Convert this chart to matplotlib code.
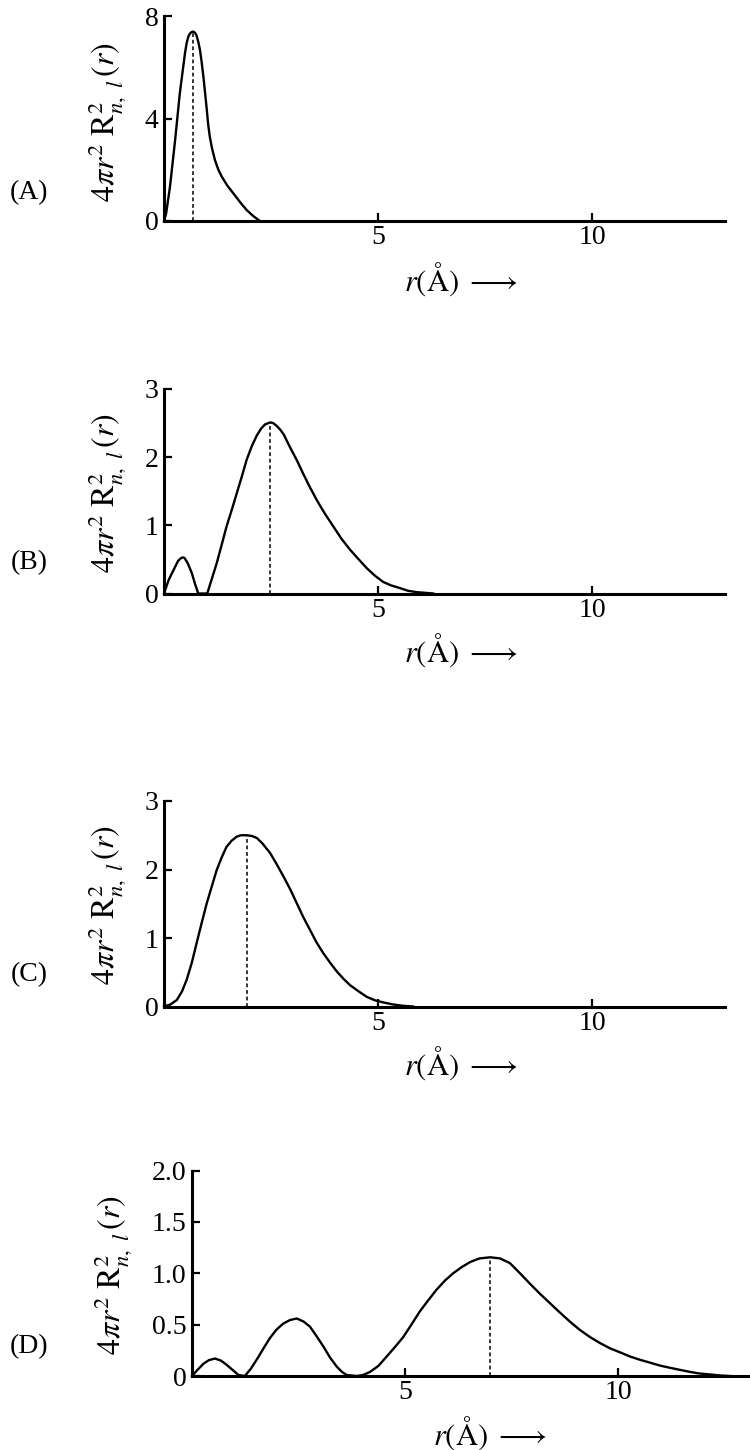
import matplotlib
matplotlib.use("Agg")
import matplotlib.pyplot as plt

plt.rcParams['font.family'] = ['Liberation Serif', 'DejaVu Serif']
plt.rcParams['mathtext.fontset'] = 'stix'

# ---- data ----
rA = [0.0, 0.05, 0.14, 0.26, 0.37, 0.49, 0.53, 0.57, 0.60, 0.64, 0.67, 0.70, 0.73,
      0.76, 0.80, 0.84, 0.88, 0.92, 0.96, 1.0, 1.03, 1.07, 1.12, 1.19, 1.27, 1.35,
      1.48, 1.62, 1.78, 1.93, 2.08, 2.24]
pA = [0.0, 0.3, 1.34, 3.16, 4.99, 6.55, 6.95, 7.2, 7.3, 7.37, 7.39, 7.38, 7.33,
      7.24, 7.0, 6.68, 6.2, 5.64, 5.0, 4.34, 3.8, 3.29, 2.85, 2.38, 2.0, 1.73,
      1.38, 1.08, 0.73, 0.43, 0.2, 0.0]

rB = [0.0, 0.11, 0.22, 0.33, 0.40, 0.44, 0.48, 0.55, 0.65, 0.72, 0.80, 1.01, 1.23,
      1.35, 1.46, 1.58, 1.70, 1.82, 1.93, 2.05, 2.17, 2.27, 2.36, 2.48, 2.55, 2.63,
      2.72, 2.80, 2.94, 3.10, 3.25, 3.40, 3.57, 3.75, 3.96, 4.15, 4.35, 4.55, 4.74,
      4.93, 5.12, 5.30, 5.51, 5.70, 5.90, 6.10, 6.29]
pB = [0.0, 0.2, 0.34, 0.48, 0.52, 0.53, 0.52, 0.45, 0.30, 0.15, 0.0, 0.0, 0.44,
      0.72, 0.98, 1.22, 1.47, 1.72, 1.96, 2.16, 2.32, 2.42, 2.48, 2.51, 2.50, 2.46,
      2.40, 2.33, 2.15, 1.96, 1.76, 1.57, 1.37, 1.18, 0.98, 0.80, 0.64, 0.50, 0.37,
      0.26, 0.17, 0.12, 0.08, 0.04, 0.02, 0.01, 0.0]

rC = [0.0, 0.15, 0.30, 0.42, 0.53, 0.65, 0.76, 0.88, 1.0, 1.12, 1.23, 1.35, 1.46,
      1.58, 1.70, 1.80, 1.93, 2.05, 2.17, 2.30, 2.48, 2.63, 2.79, 2.95, 3.10, 3.25,
      3.41, 3.56, 3.72, 3.88, 4.04, 4.20, 4.35, 4.55, 4.74, 4.93, 5.12, 5.35, 5.59,
      5.82]
pC = [0.0, 0.03, 0.095, 0.22, 0.39, 0.64, 0.92, 1.22, 1.51, 1.76, 1.99, 2.18, 2.33,
      2.42, 2.48, 2.50, 2.50, 2.49, 2.46, 2.38, 2.24, 2.08, 1.90, 1.71, 1.51, 1.31,
      1.12, 0.94, 0.78, 0.64, 0.51, 0.40, 0.31, 0.22, 0.14, 0.09, 0.06, 0.03, 0.01,
      0.0]

rD = [0.0, 0.13, 0.27, 0.40, 0.54, 0.68, 0.81, 0.95, 1.09, 1.24, 1.38, 1.52, 1.68,
      1.83, 1.98, 2.14, 2.30, 2.46, 2.62, 2.77, 2.92, 3.08, 3.24, 3.40, 3.52, 3.63,
      3.87, 4.02, 4.18, 4.38, 4.57, 4.76, 4.96, 5.15, 5.35, 5.55, 5.74, 5.94, 6.13,
      6.33, 6.53, 6.75, 7.0, 7.23, 7.46, 7.70, 7.93, 8.17, 8.40, 8.63, 8.87, 9.10,
      9.34, 9.58, 9.81, 10.05, 10.28, 10.50, 10.75, 11.0, 11.22, 11.45, 11.69, 11.90,
      12.16, 12.40, 12.63]
pD = [0.0, 0.06, 0.12, 0.155, 0.17, 0.15, 0.11, 0.06, 0.01, 0.0, 0.07, 0.16, 0.27,
      0.37, 0.45, 0.51, 0.545, 0.56, 0.53, 0.48, 0.39, 0.29, 0.18, 0.09, 0.04, 0.01,
      0.0, 0.01, 0.04, 0.10, 0.19, 0.28, 0.38, 0.50, 0.63, 0.74, 0.84, 0.93, 1.0,
      1.06, 1.11, 1.145, 1.156, 1.145, 1.10, 1.00, 0.90, 0.80, 0.71, 0.62, 0.53, 0.45,
      0.38, 0.32, 0.27, 0.23, 0.19, 0.16, 0.13, 0.10, 0.08, 0.06, 0.04, 0.025,
      0.015, 0.005, 0.0]

peak_r = [0.67, 2.48, 1.93, 7.0]
peak_p = [7.39, 2.51, 2.50, 1.156]

panel_labels = ['(A)', '(B)', '(C)', '(D)']
yticks_list = [[0, 4, 8], [0, 1, 2, 3], [0, 1, 2, 3], [0, 0.5, 1.0, 1.5, 2.0]]
ytick_labels = [['0', '4', '8'], ['0', '1', '2', '3'], ['0', '1', '2', '3'],
                ['0', '0.5', '1.0', '1.5', '2.0']]
ylims = [8, 3, 3, 2.0]
xticks = [5, 10]
xtick_labels = ['5', '10']
series = [(rA, pA), (rB, pB), (rC, pC), (rD, pD)]

# ---- layout (pixels) ----
W, H = 750, 1450
boxes = [(164, 725, 16, 221), (164, 725, 389, 593.5), (164, 725, 801, 1006.5),
         (192, 750, 1170.6, 1376)]
pxu = [42.8, 42.8, 42.8, 42.6]
letter_y = [193, 563, 975, 1347]
ylab_pos = [(107, 122), (107, 493), (107, 905), (113, 1275)]
xlab_pos = [(461, 279), (461, 650), (461, 1063), (490, 1433)]

fig = plt.figure(figsize=(W / 100, H / 100), dpi=100)

for i in range(4):
    l, r, t, b = boxes[i]
    ax = fig.add_axes([l / W, 1 - b / H, (r - l) / W, (b - t) / H])
    x, y = series[i]
    ax.plot(x, y, color='black', lw=1.7, solid_joinstyle='round', clip_on=False)
    ax.plot([peak_r[i], peak_r[i]], [0, peak_p[i]], color='black', lw=1.1,
            dashes=(2.5, 1.8))
    ax.set_xlim(0, (r - l) / pxu[i])
    ax.set_ylim(0, ylims[i])
    for s in ['top', 'right']:
        ax.spines[s].set_visible(False)
    for s in ['left', 'bottom']:
        ax.spines[s].set_linewidth(2.2)
    ax.set_xticks(xticks)
    ax.set_xticklabels(xtick_labels)
    ax.set_yticks(yticks_list[i])
    ax.set_yticklabels(ytick_labels[i])
    ax.tick_params(direction='in', length=5.5, width=1.6, labelsize=20, pad=3)
    ax.tick_params(axis='y', pad=4)
    ax.patch.set_alpha(0)

    fig.text(29 / W, 1 - letter_y[i] / H, panel_labels[i], fontsize=20,
             ha='center', va='center')
    fig.text(ylab_pos[i][0] / W, 1 - ylab_pos[i][1] / H,
             r'$4\pi r^2\ \mathrm{R}^2_{n,\ l}\,(r)$', fontsize=23,
             rotation=90, ha='center', va='center')
    fig.text(xlab_pos[i][0] / W, 1 - xlab_pos[i][1] / H,
             r'$r(\mathrm{Å})\ \longrightarrow$', fontsize=22,
             ha='center', va='center')

fig.savefig('out.png', dpi=100, facecolor='white')
